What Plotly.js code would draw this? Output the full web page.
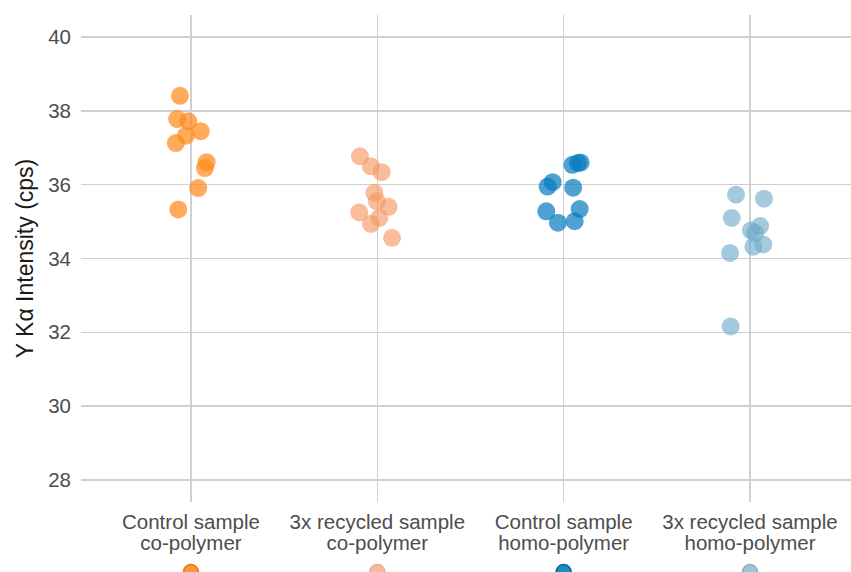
<!DOCTYPE html>
<html>
<head>
<meta charset="utf-8">
<script src="https://cdn.plot.ly/plotly-3.0.1.min.js"></script>
<style>
  html, body { margin: 0; padding: 0; background: #ffffff; }
  #chart { width: 851px; height: 572px; }
</style>
</head>
<body>
<div id="chart"></div>
<script>
// Sample groups, in axis order (two label lines each)
const categoryLine1 = ["Control sample", "3x recycled sample", "Control sample", "3x recycled sample"];
const categoryLine2 = ["co-polymer", "co-polymer", "homo-polymer", "homo-polymer"];

// Y Kα intensity (cps), ten measurements per group
const controlCo = [38.41, 37.78, 37.72, 37.45, 37.33, 37.13, 36.61, 36.45, 35.91, 35.33];
const recycledCo = [36.77, 36.50, 36.34, 35.78, 35.55, 35.40, 35.25, 35.10, 34.94, 34.56];
const controlHomo = [36.54, 36.59, 36.60, 36.07, 35.95, 35.92, 35.28, 35.34, 34.97, 35.01];
const recycledHomo = [35.73, 35.62, 35.10, 34.88, 34.76, 34.69, 34.38, 34.32, 34.15, 32.16];

// Horizontal jitter of each point, in category widths
const jitterControlCo = [-0.059, -0.074, -0.014, 0.052, -0.027, -0.081, 0.084, 0.075, 0.039, -0.068];
const jitterRecycledCo = [-0.093, -0.034, 0.023, -0.016, -0.002, 0.061, -0.097, 0.011, -0.034, 0.079];
const jitterControlHomo = [0.047, 0.077, 0.091, -0.059, -0.086, 0.051, -0.093, 0.086, -0.031, 0.059];
const jitterRecycledHomo = [-0.075, 0.075, -0.098, 0.054, 0.005, 0.027, 0.071, 0.018, -0.107, -0.104];

const yTicks = [28, 30, 32, 34, 36, 38, 40];

const groupColors = ["#ff8a1c", "#f5945f", "#0a7dbf", "#6eaac9"];
const groupOpacity = [0.72, 0.62, 0.72, 0.62];
const keyFill = ["#f89a3a", "#f6bc9c", "#1e8cc3", "#a0c4d8"];
const keyEdge = ["#e6781e", "#eeaa88", "#0a64a0", "#86b2ca"];

const values = [controlCo, recycledCo, controlHomo, recycledHomo];
const jitters = [jitterControlCo, jitterRecycledCo, jitterControlHomo, jitterRecycledHomo];
const positions = categoryLine1.map((_, g) => g);

const yRange = [27.4, 40.6];
const xRange = [-0.59, 3.542];

const W = 851, H = 572;
const plotTop = 15, plotBottom = 502;

const traces = values.map((vals, g) => ({
  type: "scatter",
  mode: "markers",
  x: vals.map((_, i) => g + jitters[g][i]),
  y: vals,
  xaxis: "x",
  yaxis: "y",
  name: categoryLine1[g] + " " + categoryLine2[g],
  showlegend: false,
  hoverinfo: "y",
  marker: {
    size: 18,
    color: groupColors[g],
    opacity: groupOpacity[g],
    line: { width: 0 }
  }
}));

// Empty trace that carries the second label line axis
traces.push({
  type: "scatter",
  mode: "markers",
  x: [],
  y: [],
  xaxis: "x3",
  yaxis: "y",
  showlegend: false,
  hoverinfo: "skip"
});

// Colour key row along the bottom edge, one swatch per group
traces.push({
  type: "scatter",
  mode: "markers",
  x: positions,
  y: positions.map(() => 0),
  xaxis: "x2",
  yaxis: "y2",
  showlegend: false,
  hoverinfo: "skip",
  marker: {
    size: 15,
    color: keyFill,
    line: { width: 1.5, color: keyEdge }
  }
});

const tickFont = { size: 20.5, color: "#4d4d4d" };
const mainDomainY = [(H - plotBottom) / H, 1 - plotTop / H];

const layout = {
  width: W,
  height: H,
  margin: { l: 81, r: 0, t: 0, b: 0, pad: 0 },
  paper_bgcolor: "#ffffff",
  plot_bgcolor: "#ffffff",
  font: { family: "Liberation Sans, Arial, sans-serif", color: "#4d4d4d" },
  showlegend: false,
  xaxis: {
    range: xRange,
    anchor: "y",
    tickmode: "array",
    tickvals: positions,
    ticktext: categoryLine1,
    tickfont: tickFont,
    showgrid: true,
    gridcolor: "#cfcfcf",
    gridwidth: 1.3,
    zeroline: false,
    showline: false,
    ticks: "",
    ticklabelstandoff: 5
  },
  // second label line, set closer than the default line spacing
  xaxis3: {
    range: xRange,
    overlaying: "x",
    anchor: "y",
    side: "bottom",
    tickmode: "array",
    tickvals: positions,
    ticktext: categoryLine2,
    tickfont: tickFont,
    showgrid: false,
    zeroline: false,
    showline: false,
    ticks: "",
    ticklabelstandoff: 26
  },
  yaxis: {
    domain: mainDomainY,
    range: yRange,
    tickmode: "array",
    tickvals: yTicks,
    ticktext: yTicks.map(String),
    tickfont: tickFont,
    showgrid: true,
    gridcolor: "#cfcfcf",
    gridwidth: 1.3,
    zeroline: false,
    showline: false,
    ticks: "",
    ticklabelstandoff: 9,
    title: {
      text: "Y Kα Intensity (cps)",
      font: { size: 23, color: "#1a1a1a" },
      standoff: 8
    }
  },
  xaxis2: {
    range: xRange,
    anchor: "y2",
    showgrid: false,
    zeroline: false,
    showline: false,
    showticklabels: false,
    ticks: ""
  },
  yaxis2: {
    domain: [0, 0.02],
    range: [0, 1],
    anchor: "x2",
    showgrid: false,
    zeroline: false,
    showline: false,
    showticklabels: false,
    ticks: ""
  }
};

Plotly.newPlot("chart", traces, layout, { displayModeBar: false, staticPlot: true });
</script>
</body>
</html>
